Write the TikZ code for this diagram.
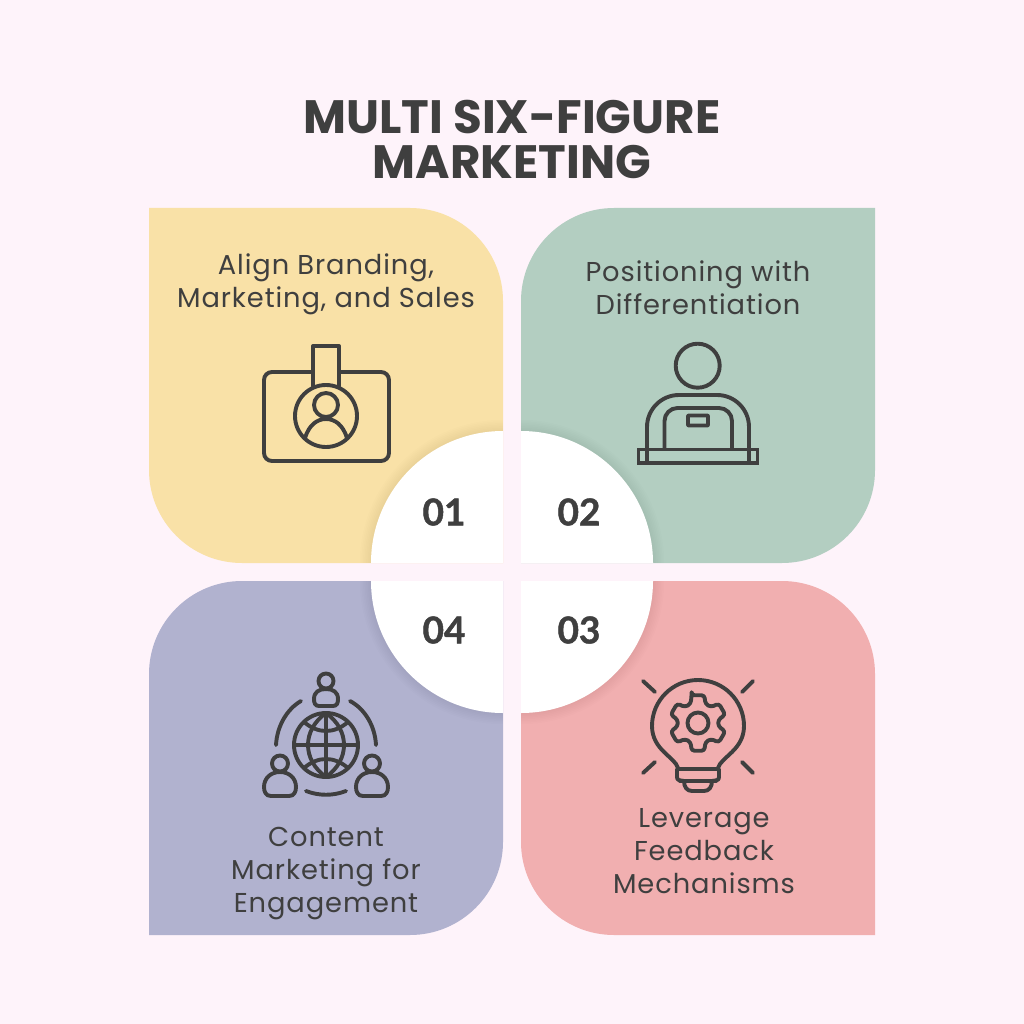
\documentclass[tikz,border=0pt]{standalone}
\usepackage{fontspec}
\setmainfont{Poppins}
\newfontfamily\bodyfont[LetterSpace=3.3]{Poppins}
\newfontfamily\titlefont{Poppins}
\newfontfamily\numfont[BoldFeatures={FakeBold=1.2}]{Lato}
\definecolor{bgc}{HTML}{FEF3FA}
\definecolor{yel}{HTML}{F9E1A7}
\definecolor{grn}{HTML}{B3CEC1}
\definecolor{pnk}{HTML}{F1AFB0}
\definecolor{pur}{HTML}{B1B2CF}
\definecolor{ink}{HTML}{3F3F3F}
\tikzset{
  icon/.style={draw=ink,line width=3.9pt,line join=round,line cap=round},
  cardtext/.style={text=ink,align=center,font=\bodyfont\fontsize{27.3}{33}\selectfont,inner sep=0pt},
  numtext/.style={text=ink,font=\numfont\bfseries\fontsize{37}{37}\selectfont,inner sep=0pt},
  titletext/.style={text=ink,align=center,font=\titlefont\bfseries\fontsize{46.8}{45}\selectfont,inner sep=0pt}
}
\newcommand{\quadshadow}[4]{%
  \foreach \k in {1,...,7}{
    \fill[black,opacity=0.009] (#1,#2) -- ++(#3:{132+1.6*\k}) arc[start angle=#3,end angle=#4,radius={132+1.6*\k}] -- cycle;
  }
  \fill[white] (#1,#2) -- ++(#3:132) arc[start angle=#3,end angle=#4,radius=132] -- cycle;
}
\begin{document}
\begin{tikzpicture}[x=1pt,y=-1pt]
\useasboundingbox (0,0) rectangle (1024,1024);
\fill[bgc] (0,0) rectangle (1024,1024);

% cards and quadrants
\fill[yel] (149,208) -- (410,208) arc[start angle=-90,end angle=0,radius=93] -- (503,563) -- (242,563) arc[start angle=90,end angle=180,radius=93] -- cycle;
\quadshadow{503}{563}{180}{270}
\fill[grn] (614,208) -- (875,208) -- (875,470) arc[start angle=0,end angle=90,radius=93] -- (521,563) -- (521,301) arc[start angle=180,end angle=270,radius=93] -- cycle;
\quadshadow{521}{563}{270}{360}
\fill[pnk] (521,581) -- (782,581) arc[start angle=-90,end angle=0,radius=93] -- (875,935) -- (614,935) arc[start angle=90,end angle=180,radius=93] -- cycle;
\quadshadow{521}{581}{0}{90}
\fill[pur] (242,581) -- (503,581) -- (503,842) arc[start angle=0,end angle=90,radius=93] -- (149,935) -- (149,674) arc[start angle=180,end angle=270,radius=93] -- cycle;
\quadshadow{503}{581}{90}{180}

% texts
\node[titletext] (title) at (512,139) {MULTI SIX-FIGURE\\MARKETING};
\node[cardtext] (t1) at (326,284) {Align Branding,\\Marketing, and Sales};
\node[cardtext] (t2) at (698,288) {Positioning with\\Differentiation};
\node[cardtext] (t3) at (704,851) {Leverage\\Feedback\\Mechanisms};
\node[cardtext] (t4) at (326,874) {Content\\Marketing for\\Engagement};
\node[numtext] (n1) at (444,512) {01};
\node[numtext] (n2) at (579,512) {02};
\node[numtext] (n3) at (579,630) {03};
\node[numtext] (n4) at (444,630) {04};

% icon 1: badge
\draw[icon] (313,372) -- (272,372) arc[start angle=-90,end angle=-180,radius=8] -- (264,453) arc[start angle=180,end angle=90,radius=8] -- (381,461) arc[start angle=90,end angle=0,radius=8] -- (389,380) arc[start angle=0,end angle=-90,radius=8] -- (339,372);
\draw[icon] (313,386) -- (313,346) -- (339,346) -- (339,386);
\draw[icon] (326,416) circle[radius=31];
\draw[icon] (326,405) circle[radius=12];
\draw[icon] (305,438) .. controls (309,425) and (317,419) .. (326,419) .. controls (335,419) and (343,425) .. (347,438);

% icon 2: person at desk
\draw[icon] (697.7,365.7) circle[radius=22];
\draw[icon] (647,449) -- (647,427) arc[start angle=180,end angle=270,radius=32] -- (717,395) arc[start angle=270,end angle=360,radius=32] -- (749,449);
\draw[icon] (664.5,449) -- (664.5,421) arc[start angle=180,end angle=270,radius=13] -- (719,408) arc[start angle=270,end angle=360,radius=13] -- (732,449);
\draw[icon,rounded corners=0.6pt] (688,415.5) rectangle (708,425.5);
\draw[icon,line cap=butt,line join=miter] (638.5,449.5) rectangle (757.5,463);
\draw[icon,line cap=butt] (647,449.5) -- (647,463);
\draw[icon,line cap=butt] (749,449.5) -- (749,463);

% icon 3: bulb with gear
\draw[icon] (643,681) -- (655,692);
\draw[icon] (753,681) -- (742,692);
\draw[icon] (643,773) -- (655,762);
\draw[icon] (753,773) -- (742,762);
\draw[icon] (678,768) .. controls (675,757) and (652,750) .. (652,726) arc[start angle=180,end angle=360,radius=46] .. controls (744,750) and (721,757) .. (718,768) ;
\draw[icon] (677,769) -- (719,769) -- (719,777) .. controls (719,781) and (716,780) .. (712,781) .. controls (712,787) and (709,791) .. (704,791) -- (692,791) .. controls (687,791) and (684,787) .. (684,781) .. controls (680,780) and (677,781) .. (677,777) -- cycle;
\draw[icon] (680,781) -- (716,781);
\begin{scope}[shift={(698,723)}]
\draw[icon,rounded corners=3pt] (-90-13:28.5)
  \foreach \a in {-90,-30,30,90,150,210}{
    -- (\a-13:28.5) -- (\a+13:28.5) -- (\a+21:20.5) -- (\a+39:20.5)
  } -- cycle;
\draw[icon] (0,0) circle[radius=10.5];
\end{scope}

% icon 4: globe and people
\draw[icon] (326,745) circle[radius=32];
\draw[icon] (326,713) -- (326,777);
\draw[icon] (294,745) -- (358,745);
\draw[icon] (326,713) .. controls (302,730) and (302,760) .. (326,777);
\draw[icon] (326,713) .. controls (350,730) and (350,760) .. (326,777);
\draw[icon] (304,722) .. controls (318,734) and (334,734) .. (348,722);
\draw[icon] (304,768) .. controls (318,756) and (334,756) .. (348,768);
\draw[icon] (276,745) .. controls (277,726) and (287,709) .. (301,701);
\draw[icon] (376,745) .. controls (375,726) and (365,709) .. (350,701);
\draw[icon] (306,791) .. controls (319,796) and (333,796) .. (346,791);
\draw[icon] (326,681) circle[radius=7.5];
\draw[icon] (319,706) .. controls (315,706) and (314,703) .. (314,699) .. controls (314,692) and (319,689) .. (326,689) .. controls (333,689) and (338,692) .. (338,699) .. controls (338,703) and (337,706) .. (333,706) -- cycle;
\draw[icon] (280,763.5) circle[radius=8];
\draw[icon] (271,796) .. controls (266,796) and (264,792) .. (264,787) .. controls (264,778) and (271,772) .. (280,772) .. controls (289,772) and (296,778) .. (296,787) .. controls (296,792) and (294,796) .. (289,796) -- cycle;
\draw[icon] (372,763.5) circle[radius=8];
\draw[icon] (363,796) .. controls (358,796) and (356,792) .. (356,787) .. controls (356,778) and (363,772) .. (372,772) .. controls (381,772) and (388,778) .. (388,787) .. controls (388,792) and (386,796) .. (381,796) -- cycle;
\end{tikzpicture}
\end{document}
